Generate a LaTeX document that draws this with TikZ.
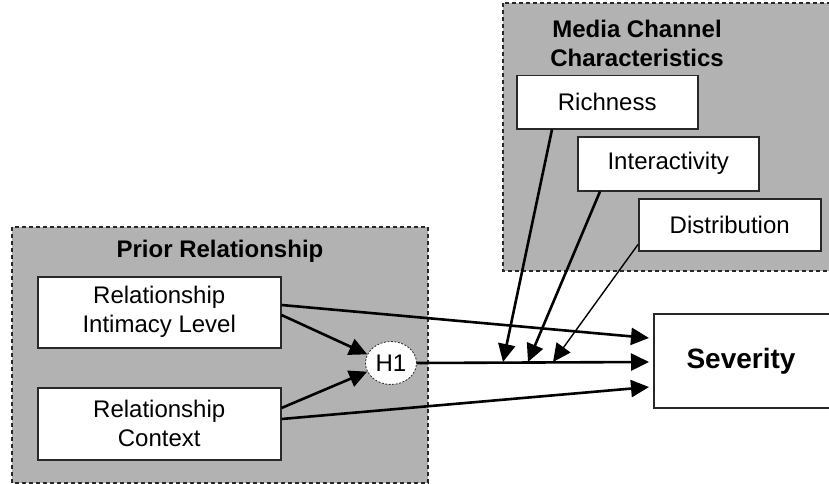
\documentclass[tikz,border=0pt]{standalone}
\usepackage{fontspec}
\setmainfont{Liberation Sans}
\usetikzlibrary{arrows.meta,shapes.geometric}
\definecolor{panel}{RGB}{178,178,178}
\definecolor{edge}{RGB}{40,40,40}
\tikzset{
  panelbox/.style={draw=edge, fill=panel, dash pattern=on 4pt off 3pt, line width=1.1pt},
  varbox/.style={draw=edge, fill=white, line width=1.5pt, align=center, inner sep=0pt},
  bigarrow/.style={draw=black, line width=2.6pt, -{Triangle[length=18pt,width=17pt]}},
  thinarrow/.style={draw=black, line width=1.4pt, -{Triangle[length=18pt,width=17pt]}},
  txt/.style={font=\fontsize{24}{29}\selectfont, align=center},
  ttl/.style={font=\fontsize{24}{29}\selectfont\bfseries, align=center},
}
\begin{document}
\begin{tikzpicture}[x=1pt,y=-1pt]
\useasboundingbox (0,0) rectangle (829,484);
% panels
\path[panelbox] (12,227) rectangle (428,483);
\path[panelbox] (503,3) rectangle (840,271);
\node[ttl] (prt) at (220,251) {Prior Relationship};
\node[ttl] (mct) at (637,43) {Media Channel\\Characteristics};
% boxes
\node[varbox, minimum width=243pt, minimum height=71pt, anchor=north west, txt] (ril) at (37,276) {Relationship\\Intimacy Level};
\node[varbox, minimum width=243pt, minimum height=72pt, anchor=north west, txt] (rc) at (37,387) {Relationship\\Context};
\node[draw=edge, dash pattern=on 2pt off 1.5pt, line width=0.8pt, fill=white, ellipse, minimum width=51pt, minimum height=43pt, inner sep=0pt, txt] (h1) at (391,363) {H1};
\node[varbox, minimum width=181pt, minimum height=53pt, anchor=north west, txt] (rich) at (516,75) {Richness};
\node[varbox, minimum width=181pt, minimum height=54pt, anchor=north west, txt] (inter) at (577,136) {Interactivity};
\node[varbox, minimum width=182pt, minimum height=52pt, anchor=north west, txt] (dist) at (638,198) {Distribution};
\node[draw=edge, fill=white, line width=1.6pt, minimum width=200pt, minimum height=94pt, anchor=north west, inner sep=0pt] (sev) at (653,313) {};
\node[font=\fontsize{28}{32}\selectfont\bfseries] (sevt) at (741,361) {Severity};
% coordinates on severity
\coordinate (s1) at (649,338);
\coordinate (s2) at (649,362);
\coordinate (s3) at (649,387);
\coordinate (m1) at (503,362);
\coordinate (m2) at (528,362);
\coordinate (m3) at (553,362);
% arrows
\draw[bigarrow] (ril.east |- 0,305) -- (s1);
\draw[bigarrow] (ril.east |- 0,315) -- (h1.160);
\draw[bigarrow] (rc.east |- 0,408) -- (h1.200);
\draw[bigarrow] (rc.east |- 0,419) -- (s3);
\draw[bigarrow] (h1.east) -- (s2);
\draw[bigarrow] (rich.south west) ++(36,0) -- (m1);
\draw[bigarrow] (inter.south west) ++(23,0) -- (m2);
\draw[thinarrow] (dist.south west) ++(0,-7) -- (m3);
\end{tikzpicture}
\end{document}
